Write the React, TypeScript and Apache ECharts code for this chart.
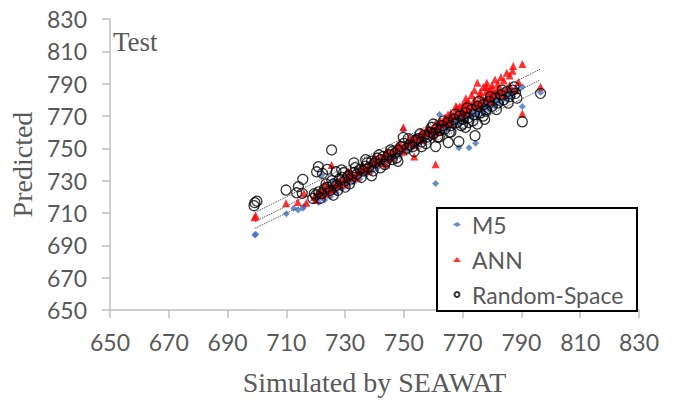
import React, { useEffect, useRef } from "react";
import * as echarts from "echarts";

const AXIS_MIN = 650;
const AXIS_MAX = 830;
const AXIS_STEP = 20;

const seriesNames = ["M5", "ANN", "Random-Space"];

const m5Points: number[][] = [
  [699.3, 696.4], [699.6, 696.8], [710, 709.5], [714, 711.8], [715.6, 712.9], [716, 714], [712.5, 713],
  [719.5, 718.5], [720.5, 719], [721, 720.5], [722, 719.5], [722.5, 721.5], [723, 722], [724, 721],
  [724.5, 723.5], [725, 722.5], [722, 733.5], [726, 724], [727, 725.5], [728, 726], [728.5, 727.5],
  [729, 728], [730, 728.5], [731, 730], [732, 731], [733, 731.5], [734, 733], [735, 734], [736, 735],
  [737, 736], [738, 737.5], [739, 738], [740, 739.5], [741, 740.5], [742, 742], [743, 742.5], [744, 743],
  [745, 744.5], [746, 745], [747, 747], [748, 748], [749, 749.5], [749.8, 761.3], [750, 750], [751, 751],
  [752, 752.5], [753, 753], [754, 754], [755, 755.5], [756, 756.5], [757, 757], [758, 758], [759, 759],
  [760, 760], [760.8, 728.3], [761, 761], [762.1, 771], [762, 762], [763, 763], [764, 764.5], [765, 765],
  [766, 765.5], [767, 766.5], [768, 767], [768.7, 750.4], [769, 768], [770, 769], [771, 770], [772, 771],
  [772.2, 750.4], [773, 771.5], [774, 772.5], [774.4, 753.1], [775, 773], [776, 774], [777, 775],
  [777.5, 777], [778, 776], [779, 777], [779.5, 779], [780, 778], [781, 779], [782, 780], [783, 781],
  [784, 782], [785, 783], [786, 784], [787, 784.5], [788, 785], [789, 786], [790.3, 775.8], [790.3, 788.1],
  [796.5, 784.6], [762, 766], [767, 770], [775, 776], [780, 781], [784, 786], [770, 771.5], [757, 759],
  [745, 746.5], [736, 737], [728, 729.5],
  [721, 716.5], [723, 718], [725, 720], [727, 722.5], [729, 725], [731, 727], [733, 729], [735, 731],
  [737, 733.5], [739, 735.5], [741, 738], [743, 740], [745, 742], [747, 744], [749, 746.5], [751, 748.5],
  [753, 750.5], [755, 752.5], [757, 754], [759, 756], [761, 758], [763, 760], [765, 762], [767, 764],
  [769, 765.5], [771, 767], [773, 769], [775, 770.5], [777, 772], [779, 774], [781, 776], [783, 778],
  [785, 780], [787, 782], [726, 730], [734, 737], [744, 747], [754, 758], [764, 767], [774, 775],
  [782, 783], [788, 787], [778, 780], [768, 770],
];

const annPoints: number[][] = [
  [699.2, 707.3], [699.6, 708.3], [709.9, 716], [713.9, 716.8], [716.8, 716.4], [716, 722.2], [725.4, 739.7],
  [719.5, 720], [720.5, 722], [721.5, 723], [722, 721], [723, 724], [724, 725], [725, 724], [726, 727],
  [727, 728], [728, 727], [729, 730], [730, 731], [731, 732], [732, 733], [733, 732], [734, 735], [735, 736],
  [736, 737], [737, 738], [738, 739], [739, 741], [740, 742], [741, 743], [742, 744], [743, 745], [744, 745],
  [745, 747], [746, 748], [747, 749], [748, 750], [749, 752], [749.8, 763], [750, 751], [751, 753],
  [752, 754], [753.5, 744.9], [753, 755], [754, 756], [755, 757], [756, 760.3], [756, 758], [757, 759],
  [758, 760], [759, 761], [760, 762], [760.8, 740.1], [761, 763], [762.3, 767], [762, 764], [763, 765],
  [764, 766], [764.5, 767], [765, 768], [766, 769], [767, 770], [767.7, 776.2], [768, 772.7], [769, 772],
  [770, 773], [771.1, 781], [771, 774], [772, 775], [773, 783], [773, 776], [774, 777], [775, 790.5],
  [775, 778], [776, 785], [776, 779], [777, 788], [777, 780], [778.2, 790.5], [778, 781], [779, 786],
  [779, 782], [780, 789], [780, 783], [781, 792.6], [781, 784], [782, 790], [782, 785], [783, 794],
  [783, 786], [784, 792], [785, 796.8], [785, 787], [786, 795], [787.2, 800.9], [787, 798], [790.3, 802.1],
  [790.3, 771.6], [796.5, 788.1], [771, 778], [774, 786], [776, 783], [778, 785], [780, 787], [766, 772],
  [769, 776], [772, 779],
  [720, 718], [722, 724.5], [724, 722], [726, 725], [728, 730], [730, 728], [732, 735], [734, 732],
  [736, 739], [738, 736], [740, 745], [742, 741], [744, 748], [746, 744], [748, 752], [750, 748],
  [752, 757], [754, 752], [756, 755], [758, 763], [760, 758], [762, 760], [764, 769], [766, 765],
  [768, 775], [770, 769], [772, 772], [774, 780], [776, 776], [778, 788], [780, 779], [782, 787],
  [784, 783], [786, 789], [788, 786], [789, 791], [770, 777], [765, 771], [761, 766], [744, 740],
  [731, 736], [723, 728],
];

const rsPoints: number[][] = [
  [699.3, 716.4], [700, 717.3], [699, 714.5], [709.9, 724.2], [713.5, 722.5], [714.1, 726.3], [715.6, 730.8],
  [715.4, 722.2], [720.9, 738.6], [725.4, 749], [720.3, 735.5], [722.3, 734.5], [723.9, 737], [726.9, 735.5],
  [728.8, 736.6], [719, 719], [720, 721], [721, 723], [722, 722], [723, 725], [724, 726], [725, 724],
  [726, 728], [727, 727], [728, 731], [729, 732], [730, 730], [731, 733], [732, 731], [733, 735], [734, 734],
  [735, 737], [736, 736], [737, 739], [738, 738], [739, 742], [740, 741], [741, 744], [742, 743], [743, 745],
  [744, 742], [745, 746], [746, 748], [747, 747], [748, 749], [749.8, 756.8], [750, 753], [751, 750],
  [752, 752], [753, 751], [754, 755], [755, 756], [756, 754], [757, 758], [758, 757], [759, 760], [760, 759],
  [760.8, 751.1], [761, 762], [762, 761], [763, 764], [764, 762], [765.1, 753.6], [765, 766], [766, 764],
  [767, 768], [768.7, 754.2], [768, 766], [769, 770], [770, 768], [771, 772], [772, 769], [773, 774],
  [774.2, 757.8], [774, 771], [775, 776], [776, 772], [777, 777], [778, 774], [779, 779], [780, 776],
  [781, 781], [782, 778], [783, 783], [784, 780], [785, 785], [786, 782], [787, 786], [788, 784],
  [790.3, 766.4], [796.5, 784], [733, 741], [737, 743], [746, 743], [760, 765], [770, 765], [777, 770],
  [772, 766], [766, 760], [742, 738],
  [719.5, 722], [721.5, 719], [723.5, 728], [725.5, 730], [727.5, 724], [729.5, 735], [731.5, 728],
  [733.5, 738], [735.5, 732], [737.5, 741], [739.5, 736], [741.5, 746], [743.5, 740], [745.5, 749],
  [747.5, 744], [749, 751], [751.5, 756], [753.5, 748], [755.5, 759], [757.5, 753], [759.5, 763],
  [761.5, 757], [763.5, 767], [765.5, 760], [767.5, 771], [769.5, 764], [771.5, 775], [773.5, 767],
  [775.5, 779], [777.5, 768], [779.5, 782], [781.5, 774], [783.5, 786], [785.5, 778], [787.5, 788],
  [788.5, 781], [778, 773], [775, 765], [771, 763], [762, 757], [756, 751], [748, 742], [739, 733],
  [730, 726], [726, 721],
];

const trendTop: number[][] = [[699.3, 710.2], [796.3, 798.9]];
const trendMid: number[][] = [[699.3, 704.6], [796.3, 792.2]];
const trendLow: number[][] = [[699.3, 700.5], [796.3, 786.0]];

const xAxisTitle = "Simulated by SEAWAT";
const yAxisTitle = "Predicted";
const panelLabel = "Test";

const GREY = "#595959";
const AXIS_GREY = "#bfbfbf";
const SANS = "Lato, 'Open Sans', sans-serif";
const SERIF = "'Liberation Serif', 'DejaVu Serif', serif";

export default function App() {
  const ref = useRef<HTMLDivElement>(null);

  useEffect(() => {
    if (!ref.current) return;
    const chart = echarts.init(ref.current, undefined, { renderer: "svg" });

    const axisCommon = {
      min: AXIS_MIN,
      max: AXIS_MAX,
      interval: AXIS_STEP,
      splitLine: { show: false },
      axisLine: { show: true, lineStyle: { color: AXIS_GREY, width: 1.5 } },
      axisTick: { show: true, inside: false, length: 8, lineStyle: { color: AXIS_GREY, width: 1.5 } },
      nameLocation: "middle" as const,
      nameTextStyle: { fontFamily: SERIF, fontSize: 28, color: GREY },
    };

    const trendStyle = { color: "#404040", type: "dotted" as const, width: 1 };

    chart.setOption({
      animation: false,
      backgroundColor: "#ffffff",
      grid: { left: 110, right: 36, top: 19, bottom: 93, containLabel: false },
      xAxis: {
        type: "value",
        ...axisCommon,
        name: xAxisTitle,
        nameGap: 58,
        axisLabel: { margin: 20, fontFamily: SANS, fontSize: 23, color: GREY },
      },
      yAxis: {
        type: "value",
        ...axisCommon,
        name: yAxisTitle,
        nameGap: 73,
        axisLabel: { margin: 23, fontFamily: SANS, fontSize: 23, color: GREY },
      },
      legend: {
        data: seriesNames,
        orient: "vertical",
        left: 448,
        top: 208,
        itemWidth: 8,
        itemHeight: 5,
        itemGap: 12,
        z: 20,
        textStyle: { fontFamily: SANS, fontSize: 23, color: GREY, padding: [0, 0, 0, 6] },
      },
      graphic: [
        {
          type: "rect",
          z: 10,
          shape: { x: 437, y: 208, width: 200, height: 103 },
          style: { fill: "#ffffff", stroke: "#000000", lineWidth: 2 },
        },
        {
          type: "text",
          left: 113,
          top: 28,
          z: 10,
          style: { text: panelLabel, fontFamily: SERIF, fontSize: 27, fill: GREY },
        },
      ],
      series: [
        {
          name: seriesNames[0],
          type: "scatter",
          symbol: "diamond",
          symbolSize: 7,
          itemStyle: { color: "#4472C4" },
          data: m5Points,
        },
        {
          name: seriesNames[1],
          type: "scatter",
          symbol: "triangle",
          symbolSize: 8,
          itemStyle: { color: "#FF0000" },
          data: annPoints,
        },
        {
          name: seriesNames[2],
          type: "scatter",
          symbol: "circle",
          symbolSize: 10,
          itemStyle: { color: "rgba(0,0,0,0)", borderColor: "#000000", borderWidth: 1.3 },
          data: rsPoints,
        },
        { name: "trend1", type: "line", data: trendTop, symbol: "none", lineStyle: trendStyle, z: 5 },
        { name: "trend2", type: "line", data: trendMid, symbol: "none", lineStyle: trendStyle, z: 5 },
        { name: "trend3", type: "line", data: trendLow, symbol: "none", lineStyle: trendStyle, z: 5 },
      ],
    });

    return () => chart.dispose();
  }, []);

  return (
    <div
      ref={ref}
      style={{ position: "fixed", left: 0, top: 0, width: 675, height: 403, background: "#fff" }}
    />
  );
}
